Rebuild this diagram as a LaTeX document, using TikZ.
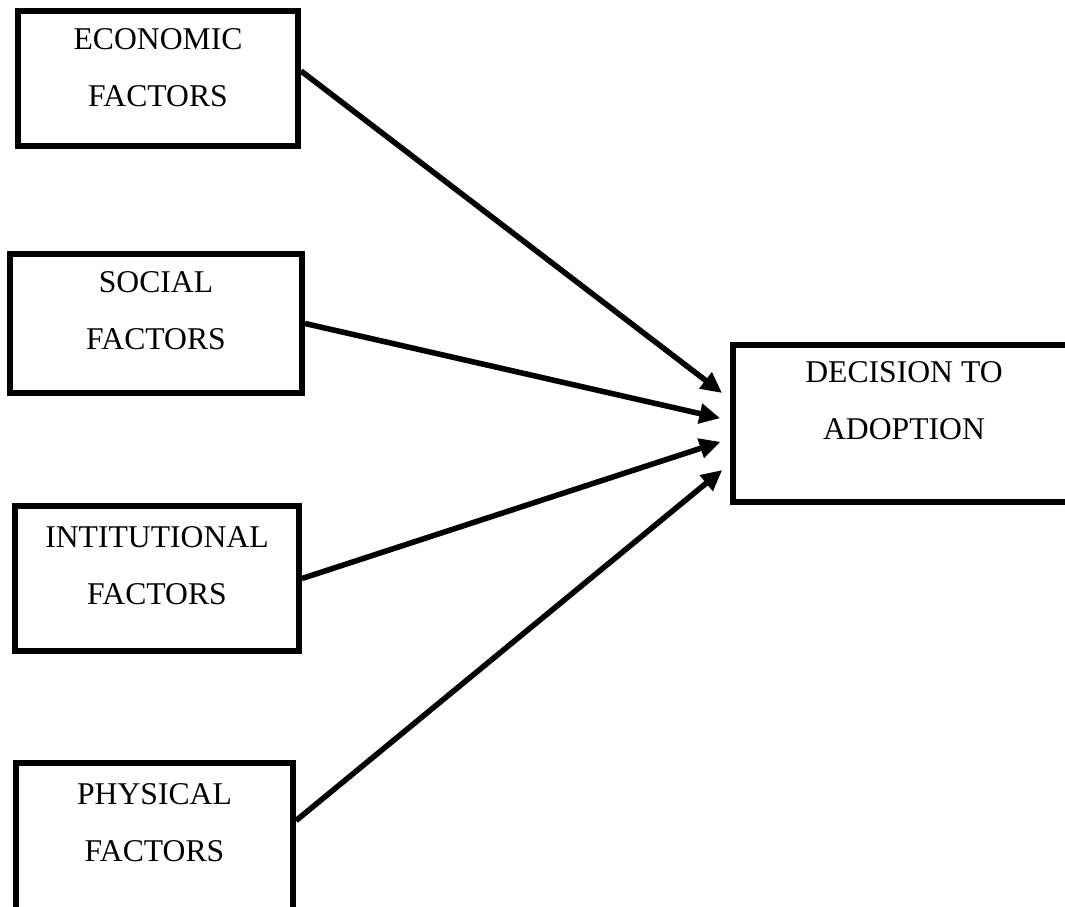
\documentclass[tikz,border=0pt]{standalone}
\usepackage{fontspec}
\setmainfont{Liberation Serif}
\usepackage{tikz}
\usetikzlibrary{positioning,arrows.meta}

\begin{document}
\begin{tikzpicture}[
    x=0.36pt, y=-0.36pt,
    box/.style={draw, line width=2.2pt, inner sep=0pt},
    txt/.style={font=\fontsize{11.4}{20.5}\selectfont, align=center, inner sep=0pt},
    arr/.style={-{Triangle[length=7.5pt,width=7pt]}, line width=2pt, shorten >=3.6pt},
]
\useasboundingbox (0,0) rectangle (1065,907);

% Factor boxes (left)
\node[box, minimum width=100.8pt, minimum height=48.6pt] (econ) at (158,78.5) {};
\node[txt, below=7.2pt of econ.north] (econtxt) {ECONOMIC\\FACTORS};

\node[box, minimum width=105.1pt, minimum height=50pt] (social) at (156,323.5) {};
\node[txt, below=7.3pt of social.north] (socialtxt) {SOCIAL\\FACTORS};

\node[box, minimum width=102.2pt, minimum height=52.2pt] (inst) at (157,578.5) {};
\node[txt, below=8.2pt of inst.north] (insttxt) {INTITUTIONAL\\FACTORS};

\node[box, minimum width=99.7pt, minimum height=54pt] (phys) at (154.5,838) {};
\node[txt, below=8.2pt of phys.north] (phystxt) {PHYSICAL\\FACTORS};

% Outcome box (right)
\node[box, minimum width=123.1pt, minimum height=56.5pt] (decision) at (904,423.5) {};
\node[txt, below=7pt of decision.north] (decisiontxt) {DECISION TO\\ADOPTION};

% Connectors
\draw[arr] (econ.3) -- (decision.172.3);
\draw[arr] (social.east) -- (decision.179.6);
\draw[arr] (inst.east) -- (decision.185.5);
\draw[arr] (phys.7.2) -- (decision.193.6);
\end{tikzpicture}
\end{document}
